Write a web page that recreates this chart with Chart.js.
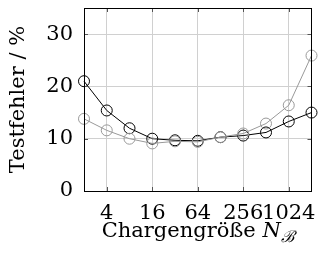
<!DOCTYPE html>
<html><head><meta charset="utf-8">
<script src="https://cdn.jsdelivr.net/npm/chart.js@4"></script>
<style>html,body{margin:0;padding:0;background:#fff}#wrap{width:318px;height:266px}</style>
</head><body><div id="wrap"><canvas id="c" width="318" height="266"></canvas></div>
<script>
const batchSizes = [2, 4, 8, 16, 32, 64, 128, 256, 512, 1024, 2048];
const errorBlack = [21.0, 15.4, 12.0, 10.0, 9.7, 9.6, 10.3, 10.6, 11.2, 13.3, 15.0];
const errorGray  = [13.8, 11.6, 10.0, 9.1, 9.5, 9.4, 10.3, 11.0, 12.9, 16.4, 25.9];
const xTicks = [4, 16, 64, 256, 1024];
const yTicks = [0, 10, 20, 30];
const yTitle = 'Testfehler / %';
const xTitleMain = 'Chargengröße ';
const xTitleVar = 'N';
const xTitleSub = 'ℬ';

const FONT = 'DejaVu Serif';
const FS = 21;

const innerTicks = {
  id: 'innerTicks',
  afterDatasetsDraw(chart) {
    const {ctx, chartArea: a, scales: {x, y}} = chart;
    ctx.save();
    ctx.strokeStyle = '#555';
    ctx.lineWidth = 1;
    ctx.beginPath();
    xTicks.forEach(v => {
      const px = Math.round(x.getPixelForValue(v)) + 0.5;
      ctx.moveTo(px, a.bottom); ctx.lineTo(px, a.bottom - 4);
      ctx.moveTo(px, a.top); ctx.lineTo(px, a.top + 4);
    });
    yTicks.forEach(v => {
      const py = Math.round(y.getPixelForValue(v)) + 0.5;
      ctx.moveTo(a.left, py); ctx.lineTo(a.left + 4, py);
      ctx.moveTo(a.right, py); ctx.lineTo(a.right - 4, py);
    });
    ctx.stroke();
    ctx.strokeStyle = '#000';
    ctx.strokeRect(Math.round(a.left) + 0.5, Math.round(a.top) + 0.5, Math.round(a.right - a.left) - 1, Math.round(a.bottom - a.top));
    // x title
    ctx.fillStyle = '#000';
    ctx.textBaseline = 'alphabetic';
    ctx.font = FS + 'px "' + FONT + '"';
    const w1 = ctx.measureText(xTitleMain).width;
    ctx.font = 'italic ' + FS + 'px "' + FONT + '"';
    const w2 = ctx.measureText(xTitleVar).width;
    ctx.font = 'italic ' + Math.round(FS * 0.75) + 'px "' + FONT + '"';
    const w3 = ctx.measureText(xTitleSub).width;
    const total = w1 + w2 + w3;
    let sx = (a.left + a.right) / 2 - total / 2;
    const base = 237;
    ctx.font = FS + 'px "' + FONT + '"';
    ctx.fillText(xTitleMain, sx, base);
    ctx.font = 'italic ' + FS + 'px "' + FONT + '"';
    ctx.fillText(xTitleVar, sx + w1, base);
    ctx.font = 'italic ' + Math.round(FS * 0.75) + 'px "' + FONT + '"';
    ctx.fillText(xTitleSub, sx + w1 + w2, base + 5);
    ctx.restore();
  }
};

new Chart(document.getElementById('c'), {
  type: 'line',
  data: {
    datasets: [
      {
        data: batchSizes.map((b, i) => ({x: b, y: errorGray[i]})),
        borderColor: '#999', backgroundColor: 'rgba(0,0,0,0)', borderWidth: 1,
        pointRadius: 5.5, pointBorderWidth: 1, pointBorderColor: '#999', pointBackgroundColor: 'rgba(0,0,0,0)'
      },
      {
        data: batchSizes.map((b, i) => ({x: b, y: errorBlack[i]})),
        borderColor: '#000', backgroundColor: 'rgba(0,0,0,0)', borderWidth: 1,
        pointRadius: 5.5, pointBorderWidth: 1, pointBorderColor: '#000', pointBackgroundColor: 'rgba(0,0,0,0)'
      }
    ]
  },
  options: {
    responsive: false,
    animation: false,
    clip: false,
    layout: {padding: {left: 0, right: 2, top: 8, bottom: 0}},
    plugins: {legend: {display: false}, tooltip: {enabled: false}},
    scales: {
      x: {
        type: 'logarithmic', min: 2, max: 2048,
        afterBuildTicks: s => { s.ticks = xTicks.map(v => ({value: v})); },
        afterFit: s => { s.height = 75; s.paddingLeft = 0; s.paddingRight = 0; },
        grid: {color: '#d0d0d0', drawTicks: false, drawOnChartArea: true},
        border: {display: false},
        ticks: {autoSkip: false, maxRotation: 0, padding: 10, color: '#000',
          font: {family: FONT, size: FS},
          callback: v => String(v)}
      },
      y: {
        min: 0, max: 35,
        afterBuildTicks: s => { s.ticks = yTicks.map(v => ({value: v})); },
        afterFit: s => { s.width = 84; s.paddingTop = 0; s.paddingBottom = 0; },
        grid: {color: '#d0d0d0', drawTicks: false},
        border: {display: false},
        ticks: {padding: 11, color: '#000', font: {family: FONT, size: FS}},
        title: {display: true, text: yTitle, color: '#000', font: {family: FONT, size: FS}, padding: {top: 6, bottom: 0}}
      }
    }
  },
  plugins: [innerTicks]
});
</script></body></html>
